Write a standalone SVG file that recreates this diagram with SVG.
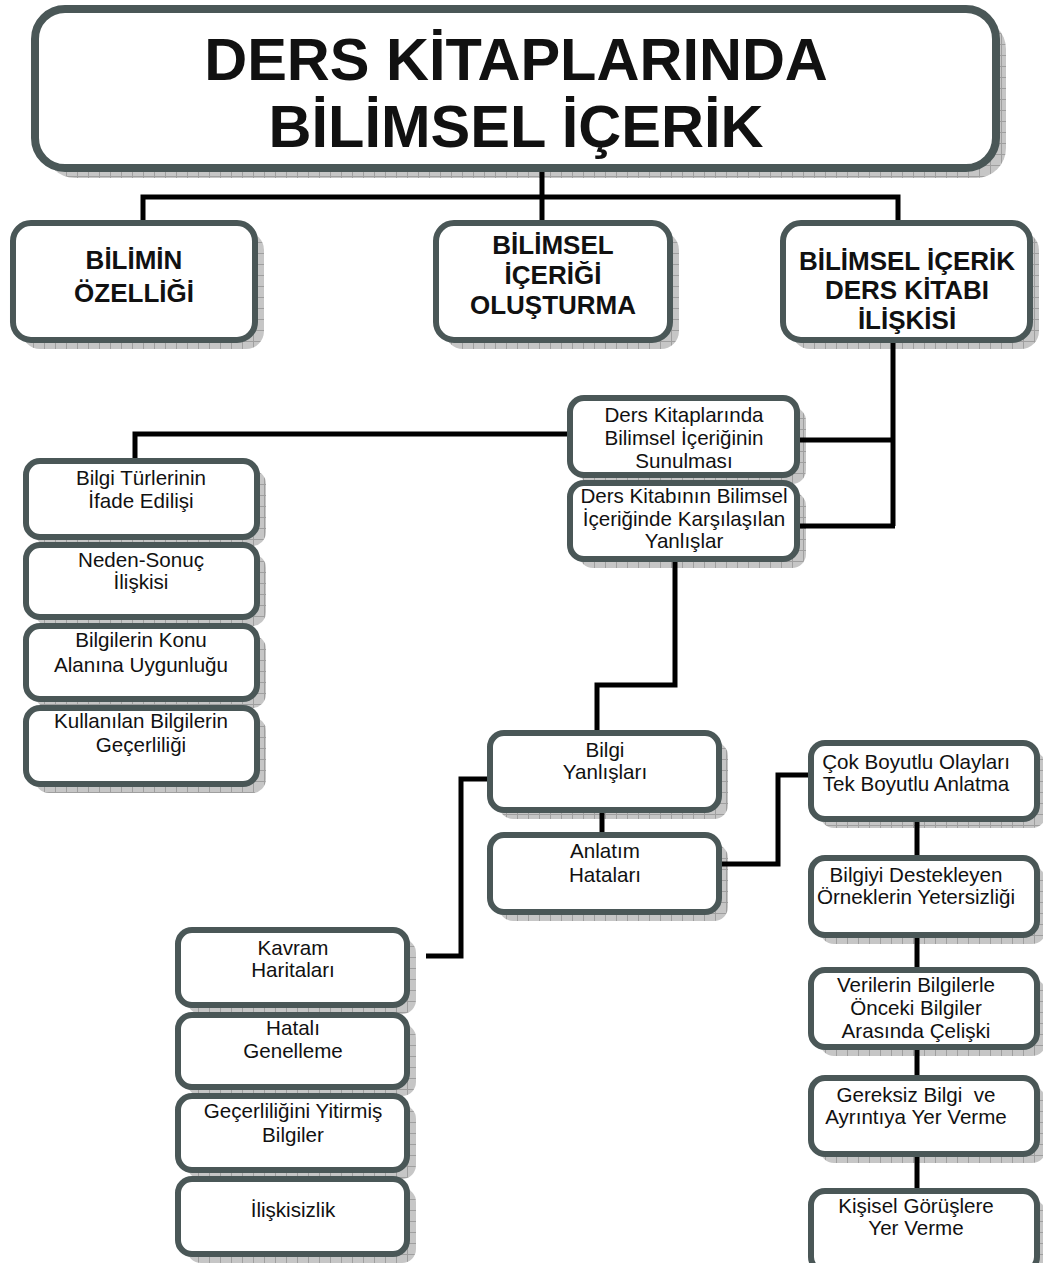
<svg xmlns="http://www.w3.org/2000/svg" width="1043" height="1263" viewBox="0 0 1043 1263">
<defs>
<pattern id="grid" width="11" height="11" patternUnits="userSpaceOnUse">
<rect width="11" height="11" fill="#c6c6c6"/>
<path d="M0 0.5H11M0.5 0V11" stroke="#9f9f9f" stroke-width="1"/>
</pattern>
<style>
.box{fill:#fff;stroke:#4a5757;stroke-width:6}
.sh{fill:url(#grid)}
.t{font-family:"Liberation Sans",Arial,sans-serif;fill:#111;text-anchor:middle;white-space:pre}
.big{font-size:59.5px;font-weight:bold}
.mid{font-size:26px;font-weight:bold}
.sm{font-size:20.6px}
.con{fill:none;stroke:#000;stroke-width:5;stroke-linejoin:miter}
</style>
</defs>
<rect width="1043" height="1263" fill="#fff"/>

<g id="title">
<rect class="sh" x="45" y="19" width="961" height="159" rx="30"/>
<rect class="box" x="35" y="9" width="961" height="159" rx="30" style="stroke-width:8"/>
<text class="t big" x="516" y="80">DERS KİTAPLARINDA</text>
<text class="t big" x="516" y="147">BİLİMSEL İÇERİK</text>
</g>

<g id="bilimin-ozelligi">
<rect class="sh" x="22" y="232" width="242" height="117" rx="18"/>
<rect class="box" x="13" y="223" width="242" height="117" rx="18"/>
<text class="t mid" x="134" y="269">BİLİMİN</text>
<text class="t mid" x="134" y="302">ÖZELLİĞİ</text>
</g>

<g id="bilimsel-icerigi-olusturma">
<rect class="sh" x="445" y="232" width="234" height="117" rx="18"/>
<rect class="box" x="436" y="223" width="234" height="117" rx="18"/>
<text class="t mid" x="553" y="254">BİLİMSEL</text>
<text class="t mid" x="553" y="284">İÇERİĞİ</text>
<text class="t mid" x="553" y="314">OLUŞTURMA</text>
</g>

<g id="bilimsel-icerik-ders-kitabi">
<rect class="sh" x="792" y="232" width="247" height="117" rx="18"/>
<rect class="box" x="783" y="223" width="247" height="117" rx="18"/>
<text class="t mid" x="907" y="270">BİLİMSEL İÇERİK</text>
<text class="t mid" x="907" y="299">DERS KİTABI</text>
<text class="t mid" x="907" y="329">İLİŞKİSİ</text>
</g>

<g id="sunulmasi">
<rect class="sh" x="579" y="407" width="227" height="77" rx="14"/>
<rect class="box" x="570" y="398" width="227" height="77" rx="14"/>
<text class="t sm" x="684" y="422">Ders Kitaplarında</text>
<text class="t sm" x="684" y="445">Bilimsel İçeriğinin</text>
<text class="t sm" x="684" y="468">Sunulması</text>
</g>

<g id="yanlislar">
<rect class="sh" x="579" y="492" width="227" height="76" rx="14"/>
<rect class="box" x="570" y="483" width="227" height="76" rx="14"/>
<text class="t sm" x="684" y="503">Ders Kitabının Bilimsel</text>
<text class="t sm" x="684" y="526">İçeriğinde Karşılaşılan</text>
<text class="t sm" x="684" y="548">Yanlışlar</text>
</g>

<g id="bilgi-turleri">
<rect class="sh" x="35" y="470" width="231" height="76" rx="14"/>
<rect class="box" x="26" y="461" width="231" height="76" rx="14"/>
<text class="t sm" x="141" y="485">Bilgi Türlerinin</text>
<text class="t sm" x="141" y="508">İfade Edilişi</text>
</g>

<g id="neden-sonuc">
<rect class="sh" x="35" y="554" width="231" height="72" rx="14"/>
<rect class="box" x="26" y="545" width="231" height="72" rx="14"/>
<text class="t sm" x="141" y="567">Neden-Sonuç</text>
<text class="t sm" x="141" y="589">İlişkisi</text>
</g>

<g id="konu-alani">
<rect class="sh" x="35" y="635" width="231" height="73" rx="14"/>
<rect class="box" x="26" y="626" width="231" height="73" rx="14"/>
<text class="t sm" x="141" y="647">Bilgilerin Konu</text>
<text class="t sm" x="141" y="672">Alanına Uygunluğu</text>
</g>

<g id="gecerliligi">
<rect class="sh" x="35" y="717" width="231" height="76" rx="14"/>
<rect class="box" x="26" y="708" width="231" height="76" rx="14"/>
<text class="t sm" x="141" y="728">Kullanılan Bilgilerin</text>
<text class="t sm" x="141" y="752">Geçerliliği</text>
</g>

<g id="bilgi-yanlislari">
<rect class="sh" x="499" y="742" width="229" height="77" rx="14"/>
<rect class="box" x="490" y="733" width="229" height="77" rx="14"/>
<text class="t sm" x="605" y="757">Bilgi</text>
<text class="t sm" x="605" y="779">Yanlışları</text>
</g>

<g id="anlatim-hatalari">
<rect class="sh" x="499" y="844" width="229" height="77" rx="14"/>
<rect class="box" x="490" y="835" width="229" height="77" rx="14"/>
<text class="t sm" x="605" y="858">Anlatım</text>
<text class="t sm" x="605" y="882">Hataları</text>
</g>

<g id="kavram-haritalari">
<rect class="sh" x="187" y="939" width="229" height="75" rx="14"/>
<rect class="box" x="178" y="930" width="229" height="75" rx="14"/>
<text class="t sm" x="293" y="955">Kavram</text>
<text class="t sm" x="293" y="977">Haritaları</text>
</g>

<g id="hatali-genelleme">
<rect class="sh" x="187" y="1024" width="229" height="72" rx="14"/>
<rect class="box" x="178" y="1015" width="229" height="72" rx="14"/>
<text class="t sm" x="293" y="1035">Hatalı</text>
<text class="t sm" x="293" y="1058">Genelleme</text>
</g>

<g id="gecerliligini-yitirmis">
<rect class="sh" x="187" y="1105" width="229" height="74" rx="14"/>
<rect class="box" x="178" y="1096" width="229" height="74" rx="14"/>
<text class="t sm" x="293" y="1118">Geçerliliğini Yitirmiş</text>
<text class="t sm" x="293" y="1142">Bilgiler</text>
</g>

<g id="iliskisizlik">
<rect class="sh" x="187" y="1188" width="229" height="75" rx="14"/>
<rect class="box" x="178" y="1179" width="229" height="75" rx="14"/>
<text class="t sm" x="293" y="1217">İlişkisizlik</text>
</g>

<g id="cok-boyutlu">
<rect class="sh" x="820" y="752" width="226" height="76" rx="14"/>
<rect class="box" x="811" y="743" width="226" height="76" rx="14"/>
<text class="t sm" x="916" y="769">Çok Boyutlu Olayları</text>
<text class="t sm" x="916" y="791">Tek Boyutlu Anlatma</text>
</g>

<g id="ornek-yetersizligi">
<rect class="sh" x="820" y="867" width="226" height="77" rx="14"/>
<rect class="box" x="811" y="858" width="226" height="77" rx="14"/>
<text class="t sm" x="916" y="882">Bilgiyi Destekleyen</text>
<text class="t sm" x="916" y="904">Örneklerin Yetersizliği</text>
</g>

<g id="celiski">
<rect class="sh" x="820" y="979" width="226" height="77" rx="14"/>
<rect class="box" x="811" y="970" width="226" height="77" rx="14"/>
<text class="t sm" x="916" y="992">Verilerin Bilgilerle</text>
<text class="t sm" x="916" y="1015">Önceki Bilgiler</text>
<text class="t sm" x="916" y="1038">Arasında Çelişki</text>
</g>

<g id="gereksiz-bilgi">
<rect class="sh" x="820" y="1087" width="226" height="76" rx="14"/>
<rect class="box" x="811" y="1078" width="226" height="76" rx="14"/>
<text class="t sm" x="916" y="1102" xml:space="preserve">Gereksiz Bilgi  ve</text>
<text class="t sm" x="916" y="1124">Ayrıntıya Yer Verme</text>
</g>

<g id="kisisel-gorusler">
<rect class="sh" x="820" y="1200" width="226" height="80" rx="14"/>
<rect class="box" x="811" y="1191" width="226" height="80" rx="14"/>
<text class="t sm" x="916" y="1213">Kişisel Görüşlere</text>
<text class="t sm" x="916" y="1235">Yer Verme</text>
</g>

<g id="connectors">
<path class="con" d="M542,172V220"/>
<path class="con" d="M143,220V197H898V220"/>
<path class="con" d="M893,343V526"/>
<path class="con" d="M800,440H893"/>
<path class="con" d="M800,526H895"/>
<path class="con" d="M567,434H135V458"/>
<path class="con" d="M675,562V685H597V730"/>
<path class="con" d="M602,813V832"/>
<path class="con" d="M487,779H461V956H426"/>
<path class="con" d="M722,864H778V775H808"/>
<path class="con" d="M917,822V855"/>
<path class="con" d="M917,938V967"/>
<path class="con" d="M917,1050V1075"/>
<path class="con" d="M917,1157V1188"/>
</g>
</svg>
